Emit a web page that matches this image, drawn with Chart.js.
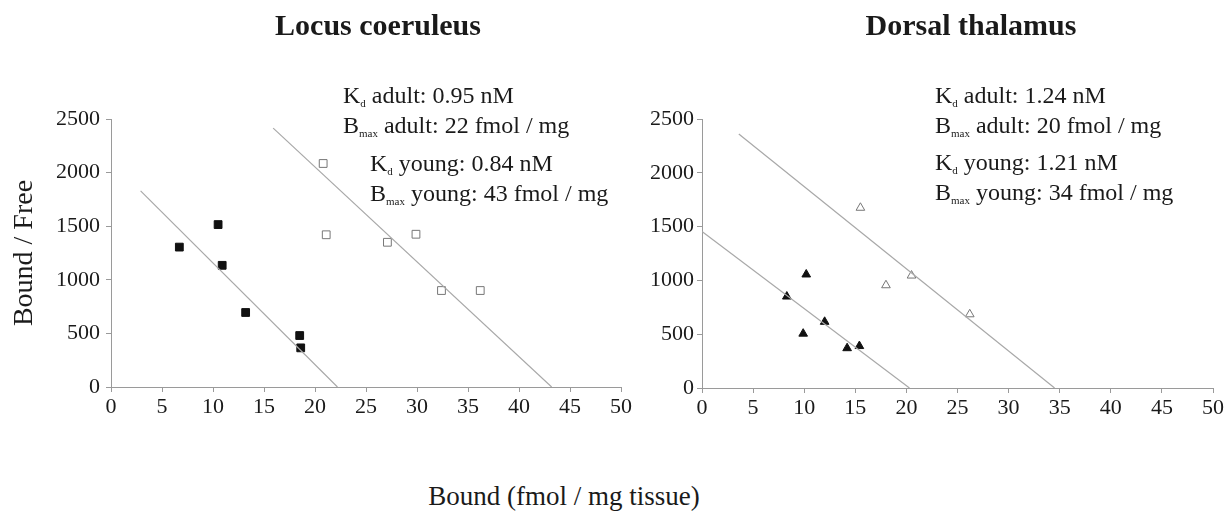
<!DOCTYPE html>
<html>
<head>
<meta charset="utf-8">
<title>Scatchard plots</title>
<script src="https://cdn.jsdelivr.net/npm/chart.js@4.4.1/dist/chart.umd.min.js"></script>
<style>
    body {
        margin: 0;
        background: #fff;
        width: 1231px;
        height: 518px;
        position: relative;
        overflow: hidden;
        font-family: "Liberation Serif", "Times New Roman", serif;
        color: #1a1a1a;
    }
    canvas { position: absolute; top: 0; }
    #lc-chart { left: 0; }
    #dt-chart { left: 640px; }
    .title {
        position: absolute;
        top: 10px;
        font-weight: bold;
        font-size: 30px;
        line-height: 30px;
        white-space: nowrap;
        transform: translateX(-50%);
    }
    .note {
        position: absolute;
        font-size: 24px;
        line-height: 24px;
        white-space: nowrap;
    }
    .note span { font-size: 11px; vertical-align: -4px; }
    #x-label {
        position: absolute;
        left: 564px;
        top: 483px;
        font-size: 27px;
        line-height: 27px;
        white-space: nowrap;
        transform: translateX(-50%);
    }
</style>
</head>
<body>
<canvas id="lc-chart" width="640" height="440"></canvas>
<canvas id="dt-chart" width="591" height="440"></canvas>

<div class="title" style="left:378px">Locus coeruleus</div>
<div class="title" style="left:971px">Dorsal thalamus</div>

<div class="note" style="left:343px; top:83px">K<span>d</span> adult: 0.95 nM</div>
<div class="note" style="left:343px; top:113px">B<span>max</span> adult: 22 fmol / mg</div>
<div class="note" style="left:370px; top:151px">K<span>d</span> young: 0.84 nM</div>
<div class="note" style="left:370px; top:181px">B<span>max</span> young: 43 fmol / mg</div>

<div class="note" style="left:935px; top:83px">K<span>d</span> adult: 1.24 nM</div>
<div class="note" style="left:935px; top:113px">B<span>max</span> adult: 20 fmol / mg</div>
<div class="note" style="left:935px; top:150px">K<span>d</span> young: 1.21 nM</div>
<div class="note" style="left:935px; top:180px">B<span>max</span> young: 34 fmol / mg</div>

<div id="x-label">Bound (fmol / mg tissue)</div>

<script>
// Locus coeruleus - bound (fmol/mg) vs bound/free
const lcAdultBound = [6.7, 10.5, 10.9, 13.2, 18.5, 18.6];
const lcAdultRatio = [1305, 1515, 1135, 695, 480, 365];
const lcYoungBound = [20.8, 21.1, 27.1, 29.9, 32.4, 36.2];
const lcYoungRatio = [2085, 1420, 1350, 1425, 900, 900];
const lcAdultFitX = [2.9, 22.2];
const lcAdultFitY = [1830, 0];
const lcYoungFitX = [15.9, 43.2];
const lcYoungFitY = [2415, 0];

// Dorsal thalamus
const dtAdultBound = [8.3, 10.2, 12.0, 9.9, 14.2, 15.4];
const dtAdultRatio = [850, 1055, 615, 505, 370, 390];
const dtYoungBound = [15.5, 18.0, 20.5, 26.2];
const dtYoungRatio = [1675, 955, 1045, 685];
const dtAdultFitX = [0, 20.3];
const dtAdultFitY = [1455, 0];
const dtYoungFitX = [3.6, 34.5];
const dtYoungFitY = [2360, 0];

// Axis ranges
const boundMin = 0, boundMax = 50, boundStep = 5;
const ratioMin = 0, ratioMax = 2500, ratioStep = 500;

Chart.defaults.font.family = '"Liberation Serif", "Times New Roman", serif';
Chart.defaults.color = '#1a1a1a';

const axisGray = '#9a9a9a';
const fitGray = '#a8a8a8';

function toPoints(xs, ys) {
    return xs.map((x, i) => ({ x: x, y: ys[i] }));
}

function markerSet(xs, ys, style, radius, fill, border) {
    return {
        data: toPoints(xs, ys),
        pointStyle: style,
        pointRadius: radius,
        pointBackgroundColor: fill,
        pointBorderColor: border,
        pointBorderWidth: 1,
        showLine: false
    };
}

function fitLine(xs, ys) {
    return {
        data: toPoints(xs, ys),
        showLine: true,
        borderColor: fitGray,
        borderWidth: 1.2,
        pointRadius: 0
    };
}

// plain numbers, no thousands separator
const plainLabel = (v) => String(v);

function makeChart(id, datasets, yWidth, opts) {
    const ctx = document.getElementById(id).getContext('2d');
    return new Chart(ctx, {
        type: 'scatter',
        data: { datasets: datasets },
        options: {
            responsive: false,
            animation: false,
            devicePixelRatio: 1,
            layout: { padding: { top: 119, right: opts.padRight, left: 0, bottom: 0 } },
            plugins: { legend: { display: false }, tooltip: { enabled: false } },
            scales: {
                x: {
                    type: 'linear',
                    min: boundMin,
                    max: boundMax,
                    ticks: { stepSize: boundStep, font: { size: 22 }, padding: 2, maxRotation: 0, callback: plainLabel },
                    grid: { drawOnChartArea: false, tickLength: 5, color: axisGray },
                    border: { color: axisGray, width: 1 },
                    afterFit: (scale) => { scale.height = opts.xHeight; }
                },
                y: {
                    type: 'linear',
                    min: ratioMin,
                    max: ratioMax,
                    ticks: { stepSize: ratioStep, font: { size: 22 }, padding: opts.yPad, callback: plainLabel },
                    grid: { drawOnChartArea: false, tickLength: 5, color: axisGray },
                    border: { color: axisGray, width: 1 },
                    title: opts.yTitle,
                    afterFit: (scale) => { scale.width = yWidth; }
                }
            }
        }
    });
}

makeChart('lc-chart', [
    fitLine(lcAdultFitX, lcAdultFitY),
    fitLine(lcYoungFitX, lcYoungFitY),
    markerSet(lcAdultBound, lcAdultRatio, 'rect', 5.5, '#111', '#111'),
    markerSet(lcYoungBound, lcYoungRatio, 'rect', 5.5, '#fff', '#777')
], 111, {
    padRight: 19,
    xHeight: 53,
    yPad: 6,
    yTitle: { display: true, text: 'Bound / Free', font: { size: 28 }, padding: { top: 8, bottom: 0 } }
});

makeChart('dt-chart', [
    fitLine(dtAdultFitX, dtAdultFitY),
    fitLine(dtYoungFitX, dtYoungFitY),
    markerSet(dtAdultBound, dtAdultRatio, 'triangle', 5, '#111', '#111'),
    markerSet(dtYoungBound, dtYoungRatio, 'triangle', 5, '#fff', '#777')
], 62, {
    padRight: 18,
    xHeight: 52,
    yPad: 3,
    yTitle: { display: false }
});
</script>
</body>
</html>
